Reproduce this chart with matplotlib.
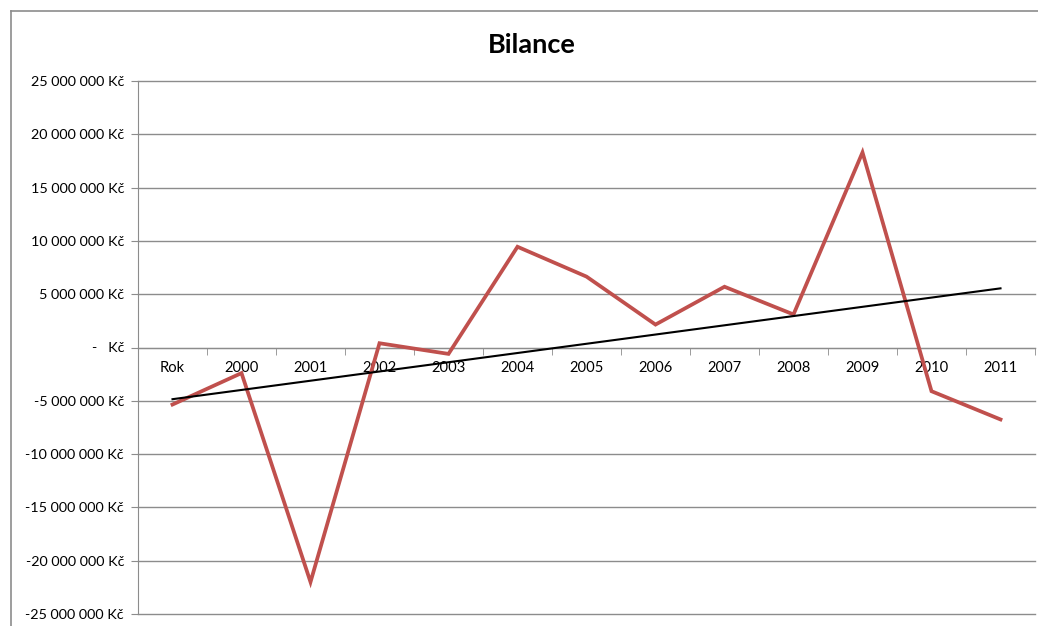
import matplotlib.pyplot as plt
import numpy as np
from matplotlib.lines import Line2D
from matplotlib.ticker import FixedLocator, FuncFormatter

plt.rcParams["font.family"] = ["Lato", "DejaVu Sans"]

categories = ["Rok", "2000", "2001", "2002", "2003", "2004", "2005",
              "2006", "2007", "2008", "2009", "2010", "2011"]
bilance = [-5_350_000, -2_400_000, -22_000_000, 400_000, -600_000,
           9_450_000, 6_650_000, 2_150_000, 5_700_000, 3_100_000,
           18_300_000, -4_100_000, -6_750_000]
y_ticks = [-25e6, -20e6, -15e6, -10e6, -5e6, 0, 5e6, 10e6, 15e6, 20e6, 25e6]

W, H = 1038, 626
fig = plt.figure(figsize=(W / 100, H / 100), dpi=100)

# chart frame: only top and left edges are inside the picture
fx, fy = 10.5 / W, 1 - 11 / H
fig.add_artist(Line2D([fx, 1.0], [fy, fy], transform=fig.transFigure,
                      color="#8c8c8c", linewidth=1.2))
fig.add_artist(Line2D([fx, fx], [0, fy], transform=fig.transFigure,
                      color="#8c8c8c", linewidth=1.2))

ax = fig.add_axes([138 / W, 1 - 614 / H, (1035 - 138) / W, (614 - 81) / H])

x = np.arange(len(categories))
ax.plot(x, bilance, color="#C0504D", linewidth=2.7, solid_joinstyle="miter",
        zorder=3)

# linear trendline
k, q = np.polyfit(x, bilance, 1)
ax.plot(x, k * x + q, color="black", linewidth=1.5, zorder=4)

ax.set_xlim(-0.5, len(categories) - 0.5)
ax.set_ylim(-25e6, 25e6)

ax.yaxis.set_major_locator(FixedLocator(y_ticks))


def kc(v, pos):
    if v == 0:
        return "-   Kč"
    s = f"{abs(v):,.0f}".replace(",", " ")
    return ("-" if v < 0 else "") + s + " Kč"


ax.yaxis.set_major_formatter(FuncFormatter(kc))
ax.grid(axis="y", color="#8c8c8c", linewidth=1.0)
for gl in ax.get_ygridlines():
    gl.set_clip_on(False)
ax.set_axisbelow(True)

for side in ["top", "right"]:
    ax.spines[side].set_visible(False)
ax.spines["left"].set_color("#8c8c8c")
ax.spines["bottom"].set_color("#8c8c8c")
ax.spines["bottom"].set_position(("data", 0))

ax.set_xticks(x)
ax.set_xticklabels(categories)
ax.set_xticks(np.arange(len(categories) + 1) - 0.5, minor=True)
ax.tick_params(axis="x", which="major", length=0, pad=10, labelsize=10.6)
ax.tick_params(axis="x", which="minor", length=5, color="#8c8c8c",
               direction="out")
ax.tick_params(axis="y", length=5, color="#8c8c8c", pad=5, labelsize=10.4)

fig.text(532 / W, 1 - 45 / H, "Bilance", ha="center", va="center",
         fontsize=19.5, fontweight="bold")

fig.savefig("out.png", dpi=100)
